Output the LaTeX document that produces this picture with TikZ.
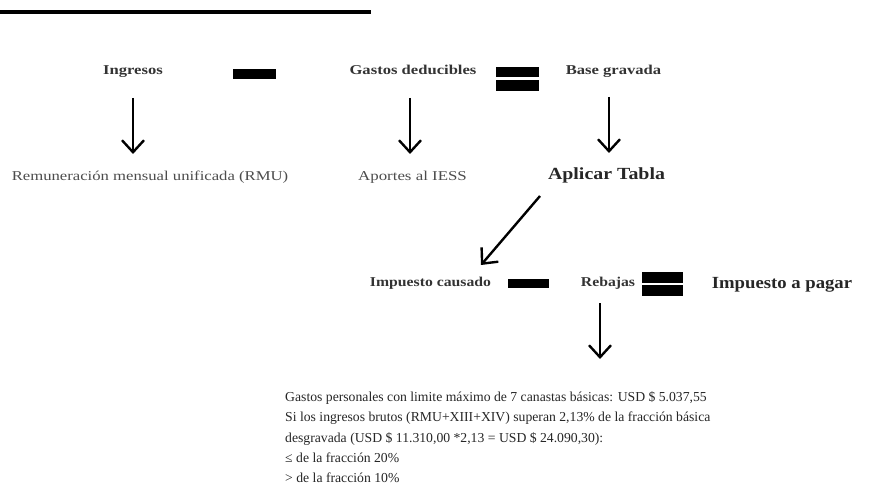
\documentclass[tikz,border=0pt]{standalone}
\usepackage{fontspec}
\setmainfont{Liberation Serif}
\usetikzlibrary{arrows.meta}
\newcommand\sx[2]{\scalebox{#1}[1]{#2}}
\begin{document}
\begin{tikzpicture}[x=1pt,y=-1pt,
  hdr/.style={font=\fontsize{13.5}{15}\selectfont\bfseries, text=black!80, inner sep=0pt, anchor=base},
  big/.style={font=\fontsize{17}{20}\selectfont\bfseries, text=black!85, inner sep=0pt, anchor=base},
  reg/.style={font=\fontsize{13.5}{15}\selectfont, text=black!70, inner sep=0pt, anchor=base},
  txt/.style={font=\fontsize{13.7}{16}\selectfont, text=black!85, inner sep=0pt, anchor=base west},
  bar/.style={fill=black, draw=none},
  arr/.style={line width=2.4pt, -{Straight Barb[length=12pt,width=22pt]}}]
\useasboundingbox (0,0) rectangle (883,486);
\fill[black] (0,10.5) rectangle (371,13.8);
% top row
\node[hdr] (ing) at (133,75) {\sx{1.23}{Ingresos}};
\node[hdr] (gas) at (413,75) {\sx{1.23}{Gastos deducibles}};
\node[hdr] (base) at (613.5,75) {\sx{1.23}{Base gravada}};
\fill[bar] (233,69) rectangle (276,79);
\fill[bar] (496,67) rectangle (539,77);
\fill[bar] (496,80) rectangle (539,91);
% second row
\node[reg] (rmu) at (150,181) {\sx{1.235}{Remuneración mensual unificada (RMU)}};
\node[reg] (iess) at (412.5,181) {\sx{1.25}{Aportes al IESS}};
\node[big] (tabla) at (606.5,180) {\sx{1.17}{Aplicar Tabla}};
\coordinate (a1s) at (133,98); \coordinate (a1e) at (133,154);
\coordinate (a2s) at (410,98); \coordinate (a2e) at (410,154);
\coordinate (a3s) at (609,97); \coordinate (a3e) at (609,153);
\draw[arr] (a1s) -- (a1e);
\draw[arr] (a2s) -- (a2e);
\draw[arr] (a3s) -- (a3e);
% diagonal
\coordinate (d1) at (540,196); \coordinate (d2) at (481,265);
\draw[arr] (d1) -- (d2);
% third row
\node[hdr] (causado) at (430.5,287) {\sx{1.165}{Impuesto causado}};
\node[hdr] (rebajas) at (608,287) {\sx{1.165}{Rebajas}};
\node[big] (pagar) at (782,288) {\sx{1.1}{Impuesto a pagar}};
\fill[bar] (508,279) rectangle (549,288);
\fill[bar] (642,272) rectangle (683,283);
\fill[bar] (642,285) rectangle (683,296);
\coordinate (r1) at (600,303); \coordinate (r2) at (600,359);
\draw[arr] (r1) -- (r2);
% bottom text
\node[txt] (l1) at (285,401) {Gastos personales con limite máximo de 7 canastas básicas: USD \$ 5.037,55};
\node[txt] (l2) at (285,421.5) {Si los ingresos brutos (RMU+XIII+XIV) superan 2,13\% de la fracción básica};
\node[txt] (l3) at (285,442) {desgravada (USD \$ 11.310,00 *2,13 = USD \$ 24.090,30):};
\node[txt] (l4) at (285,462.5) {≤ de la fracción 20\%};
\node[txt] (l5) at (285,482) {> de la fracción 10\%};
\end{tikzpicture}
\end{document}
